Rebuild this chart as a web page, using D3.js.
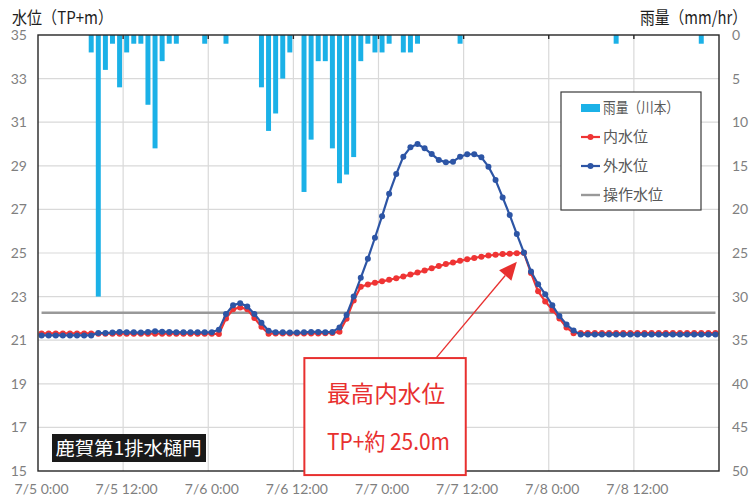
<!DOCTYPE html>
<html><head><meta charset="utf-8">
<script src="https://cdn.jsdelivr.net/npm/d3@7"></script>
<style>body{margin:0;background:#fff} text{font-family:"Noto Sans CJK JP",sans-serif}</style>
</head><body><svg id="c" width="755" height="497"></svg>
<script>
// hourly categories 7/5 0:00 .. 7/8 23:00
const hours = d3.range(96);
const rain = [
  0,0,0,0,0,0,0,2,30,4,1,6,
  2,1,1,8,13,3,1,1,0,0,0,1,
  0,0,1,0,0,0,0,6,11,9,5,2,
  0,18,12,3,3,13,17,16,14,3,1,2,
  2,1,0,2,2,1,0,0,0,0,0,1,
  0,0,0,0,0,0,0,0,0,0,0,0,
  0,0,0,0,0,0,0,0,0,1,0,0,
  0,0,0,0,0,0,0,0,0,1,0,0
];
const outer = [
  21.22,21.22,21.22,21.22,21.22,21.22,21.22,21.22,21.33,21.33,21.35,21.38,
  21.36,21.36,21.35,21.38,21.41,21.39,21.38,21.37,21.36,21.36,21.36,21.36,
  21.37,21.48,22.2,22.6,22.7,22.55,22.2,21.8,21.43,21.36,21.36,21.35,
  21.35,21.36,21.38,21.38,21.37,21.38,21.58,22.16,23.0,23.86,24.74,25.7,
  26.69,27.72,28.62,29.42,29.85,30.0,29.8,29.54,29.27,29.16,29.19,29.42,
  29.53,29.53,29.39,28.96,28.35,27.55,26.74,25.87,25.02,24.15,23.57,23.11,
  22.6,22.11,21.72,21.44,21.26,21.26,21.26,21.26,21.26,21.26,21.26,21.26,
  21.26,21.26,21.26,21.26,21.26,21.26,21.26,21.26,21.26,21.26,21.26,21.26
];
const inner = [
  21.31,21.31,21.31,21.31,21.31,21.31,21.31,21.31,21.3,21.3,21.3,21.3,
  21.3,21.3,21.3,21.3,21.3,21.3,21.3,21.3,21.3,21.3,21.3,21.3,
  21.3,21.28,22.0,22.42,22.5,22.42,22.02,21.62,21.3,21.31,21.31,21.31,
  21.31,21.31,21.31,21.31,21.32,21.33,21.39,21.98,22.82,23.45,23.56,23.64,
  23.70,23.77,23.84,23.92,24.01,24.10,24.2,24.3,24.4,24.49,24.56,24.64,
  24.71,24.77,24.83,24.88,24.92,24.95,24.97,24.99,25.0,24.08,23.24,22.78,
  22.39,22.0,21.58,21.32,21.33,21.33,21.33,21.33,21.33,21.33,21.33,21.33,
  21.33,21.33,21.33,21.33,21.33,21.33,21.33,21.33,21.33,21.33,21.33,21.33
];
const opLevelValue = 22.26;
const opLevel = hours.map(() => opLevelValue);
const xTickHours = [0,12,24,36,48,60,72,84];
const xTickLabels = ["7/5 0:00","7/5 12:00","7/6 0:00","7/6 12:00","7/7 0:00","7/7 12:00","7/8 0:00","7/8 12:00"];
const leftTicks = [15,17,19,21,23,25,27,29,31,33,35];
const rightTicks = [0,5,10,15,20,25,30,35,40,45,50];
const legendLabels = ["雨量（川本）","内水位","外水位","操作水位"];
const titleLeft = "水位（TP+m）";
const titleRight = "雨量（mm/hr）";
const stationLabel = "鹿賀第1排水樋門";
const annoLine1 = "最高内水位";
const annoLine2 = "TP+約 25.0m";
const maxInner = {h: 67, v: 24.6};

const L = 38, R = 719, T = 35, B = 471;
const svg = d3.select("#c");
svg.append("rect").attr("width",755).attr("height",497).attr("fill","#fff");

const x = d3.scaleBand().domain(hours).range([L,R]).paddingInner(0.3).paddingOuter(0.15);
const xh = d3.scaleLinear().domain([0,96]).range([L,R]);
const cx = h => x(h) + x.bandwidth()/2;
const yL = d3.scaleLinear().domain([15,35]).range([B,T]);
const yR = d3.scaleLinear().domain([0,50]).range([T,B]);

// grid
const g = svg.append("g");
g.selectAll(".hg").data(leftTicks.slice(1,-1)).join("line")
  .attr("x1",L).attr("x2",R).attr("y1",d=>yL(d)).attr("y2",d=>yL(d))
  .attr("stroke","#d9d9d9").attr("stroke-width",1.2);
g.selectAll(".vg").data(xTickHours.slice(1)).join("line")
  .attr("x1",d=>xh(d)).attr("x2",d=>xh(d)).attr("y1",T).attr("y2",B)
  .attr("stroke","#d9d9d9").attr("stroke-width",1.2);

// rain bars
svg.append("g").selectAll("rect").data(hours.filter(h=>rain[h]>0)).join("rect")
  .attr("x",h=>x(h)).attr("width",x.bandwidth())
  .attr("y",yR(0)).attr("height",h=>yR(rain[h])-yR(0))
  .attr("fill","#1bb1e7");

// operating level
const line = d3.line().x((d,i)=>cx(i)).y(d=>yL(d));
svg.append("path").datum(opLevel).attr("d",line).attr("fill","none")
  .attr("stroke","#999").attr("stroke-width",2.4);

function series(data,color){
  const gg = svg.append("g");
  gg.append("path").datum(data).attr("d",line).attr("fill","none")
    .attr("stroke",color).attr("stroke-width",2.2);
  gg.selectAll("circle").data(data).join("circle")
    .attr("cx",(d,i)=>cx(i)).attr("cy",d=>yL(d)).attr("r",3).attr("fill",color);
}
series(inner,"#ef3434");
series(outer,"#2d55a5");

// border
svg.append("rect").attr("x",L).attr("y",T).attr("width",R-L).attr("height",B-T)
  .attr("fill","none").attr("stroke","#262626").attr("stroke-width",1.4);
svg.append("g").selectAll("line").data(xTickHours.slice(1)).join("line")
  .attr("x1",d=>xh(d)).attr("x2",d=>xh(d)).attr("y1",T).attr("y2",T+4)
  .attr("stroke","#262626").attr("stroke-width",1.4);

// axes
const axL = svg.append("g").attr("transform",`translate(${L-11},0)`)
  .call(d3.axisLeft(yL).tickValues(leftTicks).tickSize(0).tickPadding(0));
const axR = svg.append("g").attr("transform",`translate(${R+13},0)`)
  .call(d3.axisRight(yR).tickValues(rightTicks).tickSize(0).tickPadding(0));
const xLab = d3.scaleOrdinal().domain(xTickHours).range(xTickLabels);
const axB = svg.append("g").attr("transform",`translate(0,${B+10})`)
  .call(d3.axisBottom(x).tickValues(xTickHours).tickFormat(h=>xLab(h)).tickSize(0).tickPadding(0));
[axL,axR,axB].forEach(a=>{
  a.select(".domain").remove();
  a.selectAll("text").attr("fill","#7f7f7f").style("font-family","Lato, 'Noto Sans', sans-serif").style("font-size","14px");
});
axB.selectAll("text").attr("dy","0.95em");

// titles
svg.append("text").attr("x",12).attr("y",24).attr("font-size",17).attr("fill","#1e1e1e")
  .attr("textLength",101).attr("lengthAdjust","spacingAndGlyphs").text(titleLeft);
svg.append("text").attr("x",640).attr("y",24).attr("font-size",17).attr("fill","#1e1e1e")
  .attr("textLength",107).attr("lengthAdjust","spacingAndGlyphs").text(titleRight);

// legend
const lg = svg.append("g");
lg.append("rect").attr("x",561).attr("y",92).attr("width",140).attr("height",118)
  .attr("fill","#fff").attr("stroke","#3a3a3a").attr("stroke-width",1.2);
const rows = [108,137,166,195];
lg.append("rect").attr("x",581).attr("y",rows[0]-4).attr("width",19).attr("height",8).attr("fill","#1bb1e7");
[["#ef3434",1],["#2d55a5",2]].forEach(([c,i])=>{
  lg.append("line").attr("x1",581).attr("x2",600).attr("y1",rows[i]).attr("y2",rows[i]).attr("stroke",c).attr("stroke-width",2.2);
  lg.append("circle").attr("cx",590.5).attr("cy",rows[i]).attr("r",3).attr("fill",c);
});
lg.append("line").attr("x1",581).attr("x2",600).attr("y1",rows[3]).attr("y2",rows[3]).attr("stroke","#999").attr("stroke-width",2.4);
legendLabels.forEach((t,i)=>{
  const tx = lg.append("text").attr("x",603).attr("y",rows[i]).attr("dy","0.36em")
    .attr("font-size",15).attr("fill","#595959").text(t);
  if(i===0) tx.attr("textLength",76).attr("lengthAdjust","spacingAndGlyphs");
});

// station label
svg.append("rect").attr("x",52).attr("y",434).attr("width",154).attr("height",28).attr("fill","#1a1a1a");
svg.append("text").attr("x",55.5).attr("y",455).attr("font-size",18.5).attr("fill","#fff")
  .attr("textLength",146).attr("lengthAdjust","spacingAndGlyphs").text(stationLabel);

// annotation arrow
const red = "#e8302f";
const tail = [xh(55.9), yL(20.1)], tip = [cx(maxInner.h), yL(maxInner.v)];
const ang = Math.atan2(tip[1]-tail[1], tip[0]-tail[0]);
const hl = 18, hw = 8;
const base = [tip[0]-hl*Math.cos(ang), tip[1]-hl*Math.sin(ang)];
svg.append("line").attr("x1",tail[0]).attr("y1",tail[1]).attr("x2",base[0]).attr("y2",base[1])
  .attr("stroke",red).attr("stroke-width",1.3);
svg.append("path").attr("d",`M${tip[0]},${tip[1]}L${base[0]+hw*Math.sin(ang)},${base[1]-hw*Math.cos(ang)}L${base[0]-hw*Math.sin(ang)},${base[1]+hw*Math.cos(ang)}Z`)
  .attr("fill",red);

// annotation box
svg.append("rect").attr("x",xh(37.55)).attr("y",yL(20.18)).attr("width",xh(60.3)-xh(37.55)).attr("height",117)
  .attr("fill","#fff").attr("stroke",red).attr("stroke-width",2);
svg.append("text").attr("x",327).attr("y",402).attr("font-size",23).attr("fill",red)
  .attr("textLength",118).attr("lengthAdjust","spacingAndGlyphs").text(annoLine1);
svg.append("text").attr("x",327).attr("y",450).attr("font-size",23).attr("fill",red)
  .attr("textLength",123).attr("lengthAdjust","spacingAndGlyphs").text(annoLine2);
</script></body></html>
